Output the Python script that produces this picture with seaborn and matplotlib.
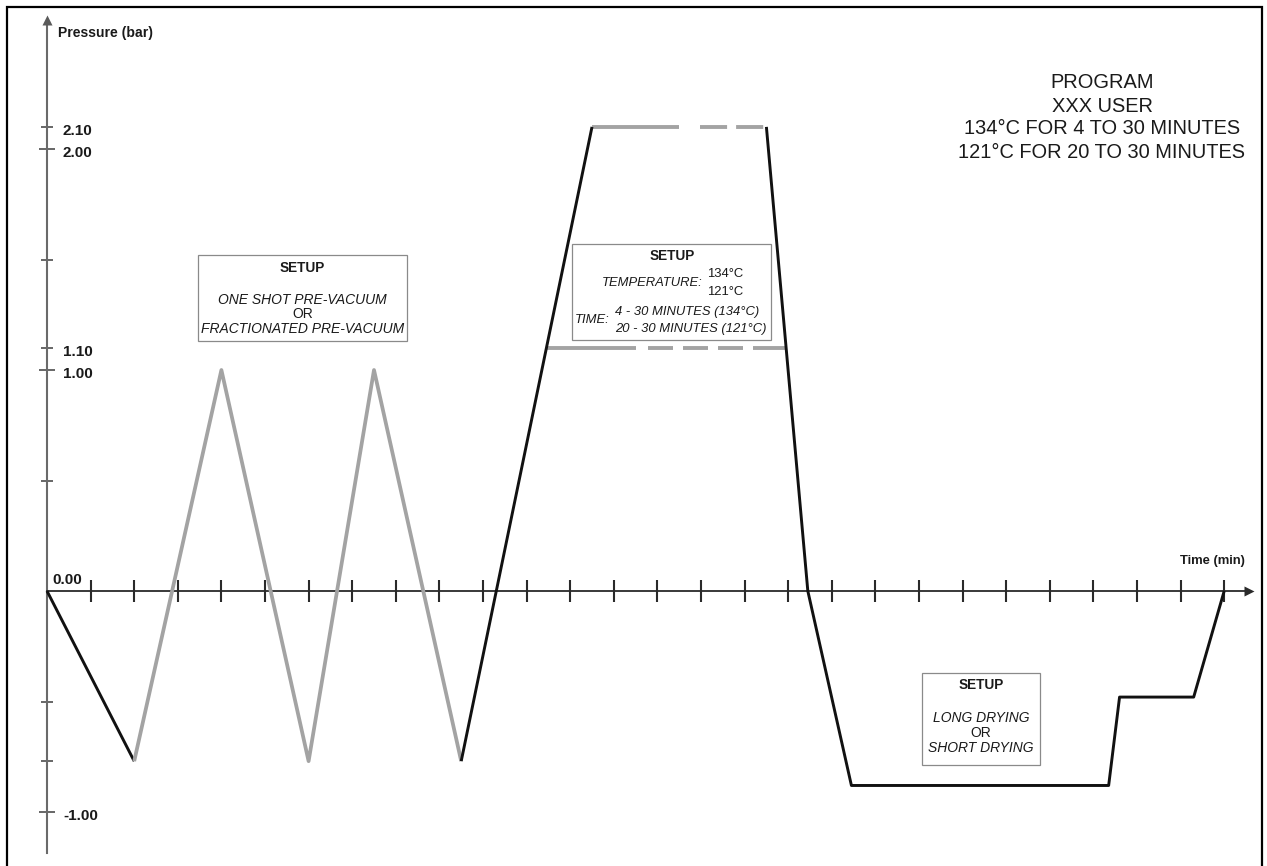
import matplotlib
matplotlib.use("Agg")
import matplotlib.pyplot as plt
import pandas as pd
import seaborn as sns
from matplotlib.patches import Rectangle

# ---------------- data ----------------
evac_time = [0, 2]
evac_pressure = [0.00, -0.77]
vac_time = [2, 4, 6, 7.5, 9.5]
vac_pressure = [-0.77, 1.00, -0.77, 1.00, -0.77]
heat_time = [9.5, 12.5]
heat_pressure = [-0.77, 2.10]
cool_time = [16.5, 17.45, 18.45, 24.35, 24.6, 26.3, 27]
cool_pressure = [2.10, 0.00, -0.88, -0.88, -0.48, -0.48, 0.00]
hold_high_pressure = 2.10
hold_high_solid = [12.5, 14.5]
hold_high_dashed = [14.98, 16.5]
hold_low_pressure = 1.10
hold_low_solid = [11.45, 13.5]
hold_low_dashed = [13.78, 16.95]

time_ticks = list(range(1, 28))
major_p_ticks = [2.00, 1.00, -1.00]
minor_p_ticks = [2.10, 1.50, 1.10, 0.50, -0.50, -0.77]
p_label_values = [2.10, 2.00, 1.10, 1.00, -1.00]
p_labels = ["2.10", "2.00", "1.10", "1.00", "-1.00"]

title_lines = ["PROGRAM", "XXX USER", "134°C FOR 4 TO 30 MINUTES", "121°C FOR 20 TO 30 MINUTES"]

# ---------------- style ----------------
sns.set_theme(style="white")
plt.rcParams["font.family"] = ["Liberation Sans", "DejaVu Sans"]
plt.rcParams["lines.scale_dashes"] = False

W, H = 1267, 866
X0, Y0 = 47, 591
SX, SY = 43.6, 221.0


def dx(px):
    return (px - X0) / SX


def dy(py):
    return (Y0 - py) / SY


fig = plt.figure(figsize=(W / 100, H / 100), dpi=100)
ax = fig.add_axes([0, 0, 1, 1])
ax.set_xlim(dx(0), dx(W))
ax.set_ylim(dy(H), dy(0))
ax.set_facecolor("white")

BLACK = "#111111"
GRAY = "#a3a3a3"
TXT = "#1a1a1a"

# ---------------- curves ----------------
def seg(t, p, color, lw, dashes=None, z=3):
    df = pd.DataFrame({"t": t, "p": p})
    sns.lineplot(data=df, x="t", y="p", sort=False, color=color, lw=lw, ax=ax,
                 zorder=z, estimator=None)
    line = ax.lines[-1]
    line.set_solid_capstyle("butt")
    if dashes is not None:
        line.set_dashes(dashes)
        line.set_dash_capstyle("butt")
    return line

seg(evac_time, evac_pressure, BLACK, 2.1)
seg(vac_time, vac_pressure, GRAY, 2.7)
seg(heat_time, heat_pressure, BLACK, 2.1)
seg(cool_time, cool_pressure, BLACK, 2.1)
seg(hold_high_solid, [hold_high_pressure] * 2, GRAY, 2.8, z=2)
seg(hold_high_dashed, [hold_high_pressure] * 2, GRAY, 2.8, dashes=(19.5, 6.5), z=2)
seg(hold_low_solid, [hold_low_pressure] * 2, GRAY, 2.8, z=2)
seg(hold_low_dashed, [hold_low_pressure] * 2, GRAY, 2.8,
    dashes=(18, 7.2, 18, 7.2, 18, 7.2, 25, 7.2), z=2)

# ---------------- axes ----------------
for s in ["top", "right"]:
    ax.spines[s].set_visible(False)
ax.spines["bottom"].set_position(("data", 0))
ax.spines["left"].set_position(("data", 0))
ax.spines["bottom"].set_bounds(0, dx(1247))
ax.spines["left"].set_bounds(dy(853), dy(20))
ax.spines["bottom"].set_color("#2a2a2a")
ax.spines["bottom"].set_linewidth(1.3)
ax.spines["left"].set_color("#6a6a6a")
ax.spines["left"].set_linewidth(1.5)
ax.spines["left"].set_zorder(1)
ax.spines["bottom"].set_zorder(1)

ax.set_xticks(time_ticks)
ax.set_xticklabels([])
ax.tick_params(axis="x", which="major", direction="inout", length=16.5, width=1.5,
               color="#2a2a2a", bottom=True)
ax.set_yticks(major_p_ticks)
ax.set_yticks(minor_p_ticks, minor=True)
ax.set_yticklabels([])
ax.tick_params(axis="y", which="major", direction="inout", length=12, width=1.3,
               color="#5a5a5a", left=True)
ax.tick_params(axis="y", which="minor", direction="inout", length=8, width=1.3,
               color="#5a5a5a", left=True)
ax.set_xlabel("")
ax.set_ylabel("")
ax.grid(False)

# arrow heads
ax.plot([dx(1249)], [0], marker=">", ms=7, color="#2a2a2a", mec="none", zorder=4)
ax.plot([0], [dy(20)], marker="^", ms=7, color="#5a5a5a", mec="none", zorder=4)

# axis labels
ax.text(dx(58), dy(33), "Pressure (bar)", fontsize=10.1, fontweight="bold", color=TXT,
        ha="left", va="center")
ax.text(dx(1180), dy(561), "Time (min)", fontsize=9.4, fontweight="bold", color=TXT,
        ha="left", va="center")
ax.text(dx(52), dy(580), "0.00", fontsize=11, fontweight="bold", color=TXT,
        ha="left", va="center")
for v, lab in zip(p_label_values, p_labels):
    ax.text(dx(63), v - 4 / SY, lab, fontsize=11, fontweight="bold", color=TXT,
            ha="left", va="center")

# title block
for i, line in enumerate(title_lines):
    ax.text(dx(1102), dy(83 + 23 * i), line, fontsize=14.4, color=TXT,
            ha="center", va="center")

# ---------------- boxes ----------------
def box(x0, y0, x1, y1):
    r = Rectangle((dx(x0), dy(y1)), dx(x1) - dx(x0), dy(y0) - dy(y1),
                  facecolor="white", edgecolor="#8a8a8a", lw=0.9, zorder=5)
    ax.add_patch(r)

box(198, 255, 407, 341)
cx = dx(302.5)
ax.text(cx, dy(268), "SETUP", fontsize=9.8, fontweight="bold", color=TXT, ha="center", va="center", zorder=6)
ax.text(cx, dy(300), "ONE SHOT PRE-VACUUM", fontsize=10, style="italic", color=TXT, ha="center", va="center", zorder=6)
ax.text(cx, dy(314.5), "OR", fontsize=10, color=TXT, ha="center", va="center", zorder=6)
ax.text(cx, dy(329), "FRACTIONATED PRE-VACUUM", fontsize=10, style="italic", color=TXT, ha="center", va="center", zorder=6)

box(572, 244, 771, 340)
ax.text(dx(672), dy(256), "SETUP", fontsize=9.8, fontweight="bold", color=TXT, ha="center", va="center", zorder=6)
ax.text(dx(703), dy(283), "TEMPERATURE:", fontsize=9.4, style="italic", color=TXT, ha="right", va="center", zorder=6)
ax.text(dx(707), dy(274), "134°C", fontsize=9.4, color=TXT, ha="left", va="center", zorder=6)
ax.text(dx(707), dy(292), "121°C", fontsize=9.4, color=TXT, ha="left", va="center", zorder=6)
ax.text(dx(575), dy(320), "TIME:", fontsize=9.4, style="italic", color=TXT, ha="left", va="center", zorder=6)
ax.text(dx(615), dy(312), "4 - 30 MINUTES (134°C)", fontsize=9.4, style="italic", color=TXT, ha="left", va="center", zorder=6)
ax.text(dx(615), dy(329), "20 - 30 MINUTES (121°C)", fontsize=9.4, style="italic", color=TXT, ha="left", va="center", zorder=6)

box(922, 673, 1040, 765)
cx3 = dx(981)
ax.text(cx3, dy(685), "SETUP", fontsize=9.8, fontweight="bold", color=TXT, ha="center", va="center", zorder=6)
ax.text(cx3, dy(718), "LONG DRYING", fontsize=10, style="italic", color=TXT, ha="center", va="center", zorder=6)
ax.text(cx3, dy(733), "OR", fontsize=10, color=TXT, ha="center", va="center", zorder=6)
ax.text(cx3, dy(748), "SHORT DRYING", fontsize=10, style="italic", color=TXT, ha="center", va="center", zorder=6)

# outer frame
fig.patches.append(Rectangle((6.5 / W, 1 - 880 / H), (1262 - 6.5) / W, (880 - 7) / H,
                             transform=fig.transFigure, fill=False, edgecolor="black",
                             lw=1.6, zorder=10))

fig.savefig("out.png", dpi=100)
